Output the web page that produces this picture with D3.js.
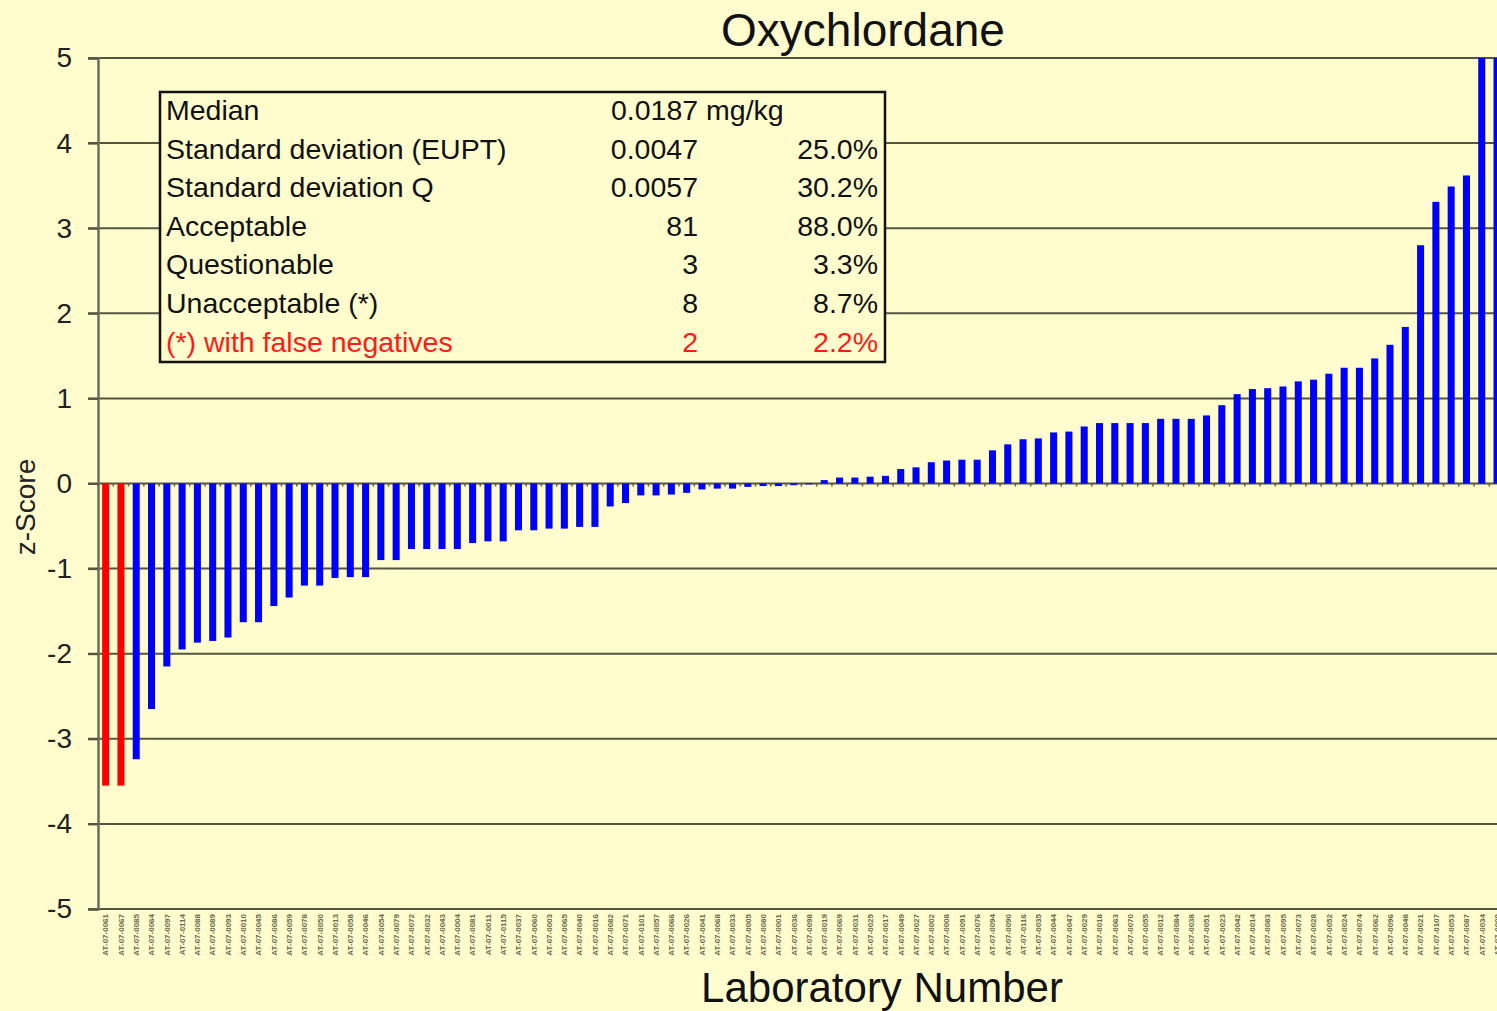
<!DOCTYPE html>
<html lang="en">
<head>
<meta charset="UTF-8">
<title>Oxychlordane z-Scores</title>
<script src="https://d3js.org/d3.v7.min.js"></script>
<style>
  body { margin: 0; background: #fffdcd; }
  svg { display: block; font-family: "Liberation Sans", Arial, sans-serif; }
</style>
</head>
<body>
<script>
// z-scores per laboratory, sorted ascending (values above 5 run off the chart)
const zScores = [
  -3.55, -3.55, -3.24, -2.65, -2.15, -1.95, -1.87, -1.85, -1.81, -1.63,
  -1.63, -1.44, -1.34, -1.20, -1.20, -1.11, -1.10, -1.10, -0.90, -0.90,
  -0.77, -0.77, -0.77, -0.77, -0.70, -0.68, -0.68, -0.55, -0.55, -0.53,
  -0.53, -0.51, -0.51, -0.27, -0.23, -0.14, -0.14, -0.13, -0.11, -0.07,
  -0.06, -0.06, -0.04, -0.03, -0.03, -0.02, -0.01, 0.04, 0.07, 0.07,
  0.08, 0.09, 0.17, 0.19, 0.25, 0.27, 0.28, 0.28, 0.39, 0.46,
  0.52, 0.53, 0.60, 0.61, 0.67, 0.71, 0.71, 0.71, 0.71, 0.76,
  0.76, 0.76, 0.80, 0.92, 1.05, 1.11, 1.12, 1.14, 1.20, 1.22,
  1.29, 1.36, 1.36, 1.47, 1.63, 1.84, 2.80, 3.31, 3.49, 3.62,
  6.4, 7.9
];
// labs whose result was a false negative
const falseNegative = [true, true];

// laboratory codes (printed tiny and vertical under each bar)
const labs = [
  "AT-07-0061", "AT-07-0067", "AT-07-0085", "AT-07-0064", "AT-07-0097", "AT-07-0114", "AT-07-0088", "AT-07-0089", "AT-07-0093", "AT-07-0010",
  "AT-07-0045", "AT-07-0086", "AT-07-0059", "AT-07-0078", "AT-07-0050", "AT-07-0013", "AT-07-0058", "AT-07-0046", "AT-07-0054", "AT-07-0079",
  "AT-07-0072", "AT-07-0032", "AT-07-0043", "AT-07-0004", "AT-07-0081", "AT-07-0011", "AT-07-0115", "AT-07-0037", "AT-07-0060", "AT-07-0003",
  "AT-07-0065", "AT-07-0040", "AT-07-0016", "AT-07-0082", "AT-07-0071", "AT-07-0101", "AT-07-0057", "AT-07-0066", "AT-07-0026", "AT-07-0041",
  "AT-07-0068", "AT-07-0033", "AT-07-0005", "AT-07-0080", "AT-07-0001", "AT-07-0036", "AT-07-0098", "AT-07-0019", "AT-07-0069", "AT-07-0031",
  "AT-07-0025", "AT-07-0017", "AT-07-0049", "AT-07-0027", "AT-07-0002", "AT-07-0008", "AT-07-0091", "AT-07-0076", "AT-07-0094", "AT-07-0090",
  "AT-07-0116", "AT-07-0035", "AT-07-0044", "AT-07-0047", "AT-07-0029", "AT-07-0018", "AT-07-0063", "AT-07-0070", "AT-07-0055", "AT-07-0012",
  "AT-07-0084", "AT-07-0038", "AT-07-0051", "AT-07-0023", "AT-07-0042", "AT-07-0014", "AT-07-0083", "AT-07-0095", "AT-07-0073", "AT-07-0028",
  "AT-07-0052", "AT-07-0024", "AT-07-0074", "AT-07-0062", "AT-07-0096", "AT-07-0048", "AT-07-0021", "AT-07-0107", "AT-07-0053", "AT-07-0087",
  "AT-07-0034", "AT-07-0009"
];

const yTicks = [-5, -4, -3, -2, -1, 0, 1, 2, 3, 4, 5];

// summary box rows: label, value, percentage
const statLabels = ["Median", "Standard deviation (EUPT)", "Standard deviation Q", "Acceptable",
  "Questionable", "Unacceptable (*)", "(*) with false negatives"];
const statValues = ["0.0187 mg/kg", "0.0047", "0.0057", "81", "3", "8", "2"];
const statPercents = ["", "25.0%", "30.2%", "88.0%", "3.3%", "8.7%", "2.2%"];

const W = 1497, H = 1011;
const plotLeft = 98, plotTop = 58, plotBottom = 909;
const step = 15.29;

const svg = d3.select('body').append('svg')
  .attr('width', W)
  .attr('height', H);

svg.append('rect').attr('width', W).attr('height', H).attr('fill', '#fffdcd');

const x = d3.scaleBand()
  .domain(labs)
  .range([plotLeft, plotLeft + labs.length * step])
  .paddingInner(0.54)
  .paddingOuter(0.27);

const y = d3.scaleLinear()
  .domain([-5, 5])
  .range([plotBottom, plotTop]);

// gridlines
svg.append('g')
  .selectAll('line')
  .data(yTicks)
  .join('line')
  .attr('x1', plotLeft - 10)
  .attr('x2', W)
  .attr('y1', d => y(d))
  .attr('y2', d => y(d))
  .attr('stroke', '#55553f')
  .attr('stroke-width', 2);

// y axis
const yAxis = d3.axisLeft(y)
  .tickValues(yTicks)
  .tickFormat(d => String(d))
  .tickSize(10)
  .tickPadding(16);
const gy = svg.append('g')
  .attr('transform', `translate(${plotLeft},0)`)
  .call(yAxis);
gy.select('.domain').attr('stroke', '#6e6e58').attr('stroke-width', 2.5);
gy.selectAll('.tick line').attr('stroke', '#55553f').attr('stroke-width', 2);
gy.selectAll('.tick text')
  .attr('fill', '#222')
  .attr('font-size', 28)
  .attr('font-family', '"Liberation Sans", Arial, sans-serif');

// bars
svg.append('clipPath').attr('id', 'plot')
  .append('rect').attr('x', plotLeft).attr('y', plotTop)
  .attr('width', W - plotLeft).attr('height', plotBottom - plotTop);

svg.append('g')
  .attr('clip-path', 'url(#plot)')
  .selectAll('rect')
  .data(zScores)
  .join('rect')
  .attr('x', (d, i) => x(labs[i]))
  .attr('width', x.bandwidth())
  .attr('y', d => y(Math.max(0, d)))
  .attr('height', d => Math.abs(y(d) - y(0)))
  .attr('fill', (d, i) => falseNegative[i] ? '#ff0000' : '#0000ff');

// small category ticks on the zero line
svg.append('g')
  .selectAll('line')
  .data(labs)
  .join('line')
  .attr('x1', d => x(d) - x.step() * x.paddingInner() / 2)
  .attr('x2', d => x(d) - x.step() * x.paddingInner() / 2)
  .attr('y1', y(0))
  .attr('y2', y(0) + 3)
  .attr('stroke', '#6e5a3a')
  .attr('stroke-width', 1.5);

// x axis labels, tiny and vertical
const xAxis = d3.axisBottom(x).tickSize(0).tickPadding(0);
const gx = svg.append('g')
  .attr('transform', `translate(0,${plotBottom})`)
  .call(xAxis);
gx.select('.domain').remove();
gx.selectAll('.tick text')
  .attr('transform', 'rotate(-90)')
  .attr('text-anchor', 'end')
  .attr('x', -5)
  .attr('y', 0)
  .attr('dy', '0.35em')
  .attr('font-size', 8)
  .attr('font-weight', 'bold')
  .attr('fill', '#6b6b50');

// title and axis titles
svg.append('text')
  .attr('x', 863).attr('y', 46)
  .attr('text-anchor', 'middle')
  .attr('font-size', 46)
  .attr('fill', '#111')
  .text('Oxychlordane');

svg.append('text')
  .attr('x', 882).attr('y', 1002)
  .attr('text-anchor', 'middle')
  .attr('font-size', 42)
  .attr('fill', '#111')
  .text('Laboratory Number');

svg.append('text')
  .attr('transform', 'translate(35,507) rotate(-90)')
  .attr('text-anchor', 'middle')
  .attr('font-size', 28)
  .attr('fill', '#222')
  .text('z-Score');

// summary box
const box = svg.append('g');
box.append('rect')
  .attr('x', 160).attr('y', 92)
  .attr('width', 725).attr('height', 270)
  .attr('fill', '#fffdcd')
  .attr('stroke', '#111')
  .attr('stroke-width', 2.5);

const rowY = i => 120 + i * 38.6;
const rowColor = i => i === statLabels.length - 1 ? '#ff1a1a' : '#111';

box.selectAll('.lbl')
  .data(statLabels)
  .join('text')
  .attr('class', 'lbl')
  .attr('x', 166).attr('y', (d, i) => rowY(i))
  .attr('font-size', 28.5)
  .attr('fill', (d, i) => rowColor(i))
  .text(d => d);

box.selectAll('.val')
  .data(statValues)
  .join('text')
  .attr('class', 'val')
  .attr('x', (d, i) => i === 0 ? 611 : 698)
  .attr('y', (d, i) => rowY(i))
  .attr('text-anchor', (d, i) => i === 0 ? 'start' : 'end')
  .attr('font-size', 28.5)
  .attr('fill', (d, i) => rowColor(i))
  .text(d => d);

box.selectAll('.pct')
  .data(statPercents)
  .join('text')
  .attr('class', 'pct')
  .attr('x', 878)
  .attr('y', (d, i) => rowY(i))
  .attr('text-anchor', 'end')
  .attr('font-size', 28.5)
  .attr('fill', (d, i) => rowColor(i))
  .text(d => d);
</script>
</body>
</html>
